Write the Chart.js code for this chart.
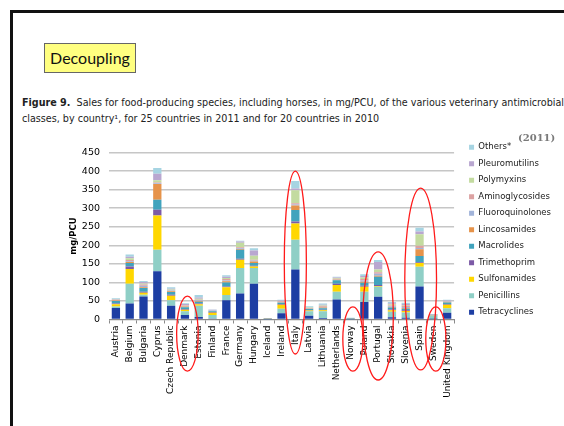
<!DOCTYPE html>
<html>
<head>
<meta charset="utf-8">
<script src="https://cdn.jsdelivr.net/npm/chart.js@4.4.1/dist/chart.umd.min.js"></script>
<style>
  html, body { margin: 0; padding: 0; background: #fff; }
  #page { position: relative; width: 564px; height: 426px; overflow: hidden; background: #fff; font-family: "DejaVu Sans", sans-serif; }
  #frame { position: absolute; left: 10px; top: 10px; width: 600px; height: 500px; border-top: 3px solid #111; border-left: 3px solid #111; }
  #tag { position: absolute; left: 44px; top: 43px; width: 92px; height: 30px; box-sizing: border-box; background: #ffff80; border: 1px solid #666; font-family: Lato, sans-serif; font-size: 16px; line-height: 28px; text-align: center; color: #111; }
  #caption { position: absolute; left: 22px; top: 95px; width: 600px; font-size: 9.6px; line-height: 15.5px; white-space: nowrap; color: #222; }
  #year { position: absolute; left: 518px; top: 132px; font: bold 10px "DejaVu Serif", serif; color: #7a7a7a; }
  #wrap { position: absolute; left: 40px; top: 130px; width: 527px; height: 296px; }
</style>
</head>
<body>
<div id="page">
  <div id="frame"></div>
  <div id="tag">Decoupling</div>
  <div id="caption"><b>Figure 9.</b>&nbsp; Sales for food-producing species, including horses, in mg/PCU, of the various veterinary antimicrobial<br>classes, by country¹, for 25 countries in 2011 and for 20 countries in 2010</div>
  <div id="wrap"><canvas id="salesChart"></canvas></div>
  <div id="year">(2011)</div>
</div>
<script>
// categories
const countries = ['Austria', 'Belgium', 'Bulgaria', 'Cyprus', 'Czech Republic', 'Denmark', 'Estonia', 'Finland',
  'France', 'Germany', 'Hungary', 'Iceland', 'Ireland', 'Italy', 'Latvia', 'Lithuania', 'Netherlands', 'Norway',
  'Poland', 'Portugal', 'Slovakia', 'Slovenia', 'Spain', 'Sweden', 'United Kingdom'];

// mg/PCU per class, 2011 (bottom of stack first)
const tetracyclines    = [31, 43, 62, 130, 37, 12, 7, 3, 52, 70, 96, 0.3, 17, 135, 10, 4, 54, 0.3, 47, 61, 6, 5, 89, 1, 18];
const penicillins      = [4, 53, 5, 58, 15, 10, 30, 9, 14, 69, 43, 2, 12, 80, 12, 18, 21, 2.5, 28, 27, 15, 14, 53, 9, 12];
const sulfonamides     = [6, 40, 5, 92, 12, 4, 4, 6, 21, 22, 4, 0.3, 11, 44, 2, 3, 18, 0.5, 13, 2, 4, 4, 10, 1, 10];
const trimethoprim     = [2, 7, 3, 16, 3, 2, 2, 2, 2, 3, 2, 0, 2, 5, 1, 1, 3, 0.1, 3, 3, 2, 2, 2, 0.5, 2];
const macrolides       = [7, 9, 10, 27, 7, 5, 5, 2, 11, 24, 7, 0.2, 3, 31, 3, 4, 10, 0.2, 8, 22, 5, 4, 17, 1, 4];
const lincosamides     = [1, 3, 2, 42, 2, 2, 2, 1, 3, 2, 4, 0, 1, 12, 1, 2, 1, 0.1, 3, 3, 2, 2, 18, 0.5, 1];
const fluoroquinolones = [1, 2, 4, 2, 2, 0.5, 1, 1, 2, 2, 3, 0.1, 1, 3, 1, 2, 1, 0.1, 3, 5, 2, 3, 4, 0.5, 1];
const aminoglycosides  = [1, 3, 3, 2, 1, 2, 2, 1, 4, 3, 2, 0.2, 2, 3, 1, 2, 2, 0.2, 4, 4, 2, 3, 6, 0.5, 1];
const polymyxins       = [1, 5, 3, 6, 2, 1, 3, 0, 3, 12, 11, 0, 1, 35, 1, 2, 2, 0, 4, 8, 3, 2, 31, 0, 1];
const pleuromutilins   = [1, 4, 4, 18, 2, 3, 3, 1, 3, 3, 14, 0, 1, 5, 1, 2, 1, 0, 4, 20, 3, 3, 7, 0.5, 1];
const others           = [2, 6, 3, 15, 4, 2, 7, 1, 4, 2, 6, 0.5, 2, 20, 3, 3, 2, 0.5, 5, 5, 3, 3, 10, 0.5, 2];

const classNames = ['Tetracyclines', 'Penicillins', 'Sulfonamides', 'Trimethoprim', 'Macrolides', 'Lincosamides',
  'Fluoroquinolones', 'Aminoglycosides', 'Polymyxins', 'Pleuromutilins', 'Others*'];
const classValues = [tetracyclines, penicillins, sulfonamides, trimethoprim, macrolides, lincosamides,
  fluoroquinolones, aminoglycosides, polymyxins, pleuromutilins, others];
const classColors = ['#1d3ea3', '#8fcfc6', '#ffd700', '#7c5aa6', '#41a3bd', '#e6934a',
  '#a2b4da', '#dca2a2', '#c3dba0', '#b9a7d0', '#a6d4e2'];

// y ticks
const yMax = 450;
const yStep = 50;

// red hand-drawn ellipses (values in mg/PCU, widths in categories)
const circled = [
  { country: 'Denmark',  top: 63,  bottom: -139, halfWidth: 0.78, shift: 0.18 },
  { country: 'Italy',    top: 400, bottom: -93,  halfWidth: 0.8,  shift: 0 },
  { country: 'Norway',   top: 34,  bottom: -139, halfWidth: 0.73, shift: 0.17 },
  { country: 'Portugal', top: 182, bottom: -163, halfWidth: 1.1,  shift: 0 },
  { country: 'Spain',    top: 354, bottom: -136, halfWidth: 1.15, shift: 0.08 },
  { country: 'Sweden',   top: 34,  bottom: -139, halfWidth: 0.73, shift: 0.18 }
];

const ellipsePlugin = {
  id: 'ellipses',
  afterDraw(chart) {
    const { ctx, scales: { x, y } } = chart;
    const step = x.getPixelForValue(1) - x.getPixelForValue(0);
    ctx.save();
    ctx.strokeStyle = '#ff1a1a';
    ctx.lineWidth = 1.3;
    circled.forEach(c => {
      const cx = x.getPixelForValue(countries.indexOf(c.country)) + c.shift * step;
      const top = y.getPixelForValue(c.top);
      const bottom = y.getPixelForValue(c.bottom);
      ctx.beginPath();
      ctx.ellipse(cx, (top + bottom) / 2, c.halfWidth * step, (bottom - top) / 2, 0, 0, Math.PI * 2);
      ctx.stroke();
    });
    ctx.restore();
  }
};

// leave a gap between the plot and the legend
const legendGap = 13;
const legendShift = 7;
const legendGapPlugin = {
  id: 'legendGap',
  beforeLayout(chart) {
    const lg = chart.legend;
    if (lg && !lg._gapWrapped) {
      const fit = lg.fit;
      lg.fit = function () { fit.call(this); this.width += legendGap; };
      lg._gapWrapped = true;
    }
  },
  afterLayout(chart) {
    if (chart.legend) chart.legend.left += legendShift;
  }
};

new Chart(document.getElementById('salesChart'), {
  type: 'bar',
  data: {
    labels: countries,
    datasets: classNames.map((name, i) => ({
      label: name,
      data: classValues[i],
      backgroundColor: classColors[i],
      borderWidth: 0,
      barPercentage: 1,
      categoryPercentage: 0.6
    }))
  },
  options: {
    responsive: true,
    maintainAspectRatio: false,
    animation: false,
    layout: { padding: { top: 5, left: 25, right: 0, bottom: 0 } },
    plugins: {
      tooltip: { enabled: false },
      legend: {
        position: 'right',
        align: 'start',
        reverse: true,
        labels: {
          boxWidth: 5,
          boxHeight: 5,
          padding: 8,
          color: '#1a1a1a',
          font: { family: 'DejaVu Sans', size: 8.5 }
        }
      }
    },
    scales: {
      x: {
        stacked: true,
        grid: { offset: true, drawOnChartArea: false, tickLength: 4, color: '#8a8a8a' },
        border: { display: true, color: '#8a8a8a', width: 1 },
        ticks: {
          autoSkip: false, minRotation: 90, maxRotation: 90, padding: 2,
          color: '#000', font: { family: 'DejaVu Sans', size: 9 }
        },
        afterFit(s) { s.height = 106.5; }
      },
      y: {
        stacked: true,
        min: 0,
        max: yMax,
        grid: { color: '#c6c6c6', lineWidth: 1.5, drawTicks: false },
        border: { display: false },
        ticks: { stepSize: yStep, padding: 9, color: '#000', font: { family: 'DejaVu Sans', size: 9.5 } },
        title: { display: true, text: 'mg/PCU', color: '#000', padding: { top: 4, bottom: 0 }, font: { family: 'DejaVu Sans', size: 8.5, weight: 'bold' } },
        afterFit(s) { s.width = 44; s.paddingTop = 22.5; }
      }
    }
  },
  plugins: [ellipsePlugin, legendGapPlugin]
});
</script>
</body>
</html>
